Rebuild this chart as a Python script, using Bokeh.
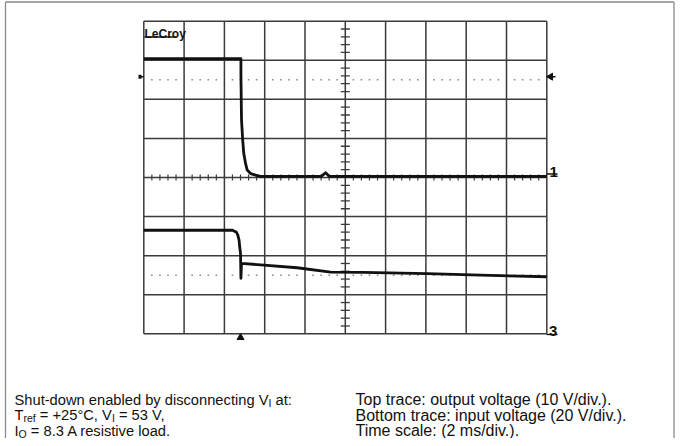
import math
from bokeh.plotting import figure
from bokeh.models import Range1d, Label
from bokeh.embed import file_html
from bokeh.resources import INLINE

# ---------------- data ----------------
# time axis: 2 ms/div, 10 divisions
time_grid_ms = [0, 2, 4, 6, 8, 10, 12, 14, 16, 18, 20]
# vertical grid in channel-1 volts (10 V/div, ground at centre line)
volt_grid_ch1 = [-40, -30, -20, -10, 0, 10, 20, 30, 40]

# top trace: output voltage, 10 V/div, ground marker "1" at centre
ch1_t = [0.0, 4.82, 4.82, 4.85, 4.88, 4.91, 4.96, 5.05, 5.13, 5.30, 5.55, 5.79,
         8.80, 9.02, 9.20, 20.0]
ch1_v = [30.4, 30.4, 26.2, 14.7, 12.1, 9.5, 6.2, 3.6, 1.9, 1.0, 0.6, 0.3,
         0.3, 1.2, 0.3, 0.3]

# bottom trace: input voltage, 20 V/div, ground marker "3" at bottom line
ch3_t = [0.0, 4.40, 4.60, 4.67, 4.73, 4.76, 4.80, 4.82, 4.85, 5.96, 7.61,
         9.27, 10.90, 14.06, 16.71, 20.0]
ch3_v = [53.0, 53.0, 52.0, 50.4, 47.8, 44.4, 41.2, 28.4, 36.0, 35.2, 33.8,
         31.6, 31.4, 30.8, 30.0, 29.2]

trigger_t = 4.80          # ms (trigger arrow under the screen)
trig_level_v = 25.8       # ch1 volts (side arrows)
ref_level_v = [25.0, -25.0]  # dotted reference lines (ch1 volts)

left_lines = [
    [("Shut-down enabled by disconnecting V", 0), ("I", 1), (" at:", 0)],
    [("T", 0), ("ref", 1), (" = +25°C, V", 0), ("I", 1), (" = 53 V,", 0)],
    [("I", 0), ("O", 1), (" = 8.3 A resistive load.", 0)],
]
right_lines = [
    "Top trace: output voltage (10 V/div.).",
    "Bottom trace: input voltage (20 V/div.).",
    "Time scale: (2 ms/div.).",
]

# ---------------- geometry (picture pixels) ----------------
W, H = 675, 438
PX0, PX1 = 143.3, 546.3     # screen left/right
PY0, PY1 = 20.7, 333.3      # screen top/bottom
MS_PX = 20.0 / (PX1 - PX0)
V_PX = 80.0 / (PY1 - PY0)
PYC = (PY0 + PY1) / 2


def X(px):
    return (px - PX0) * MS_PX


def Y(py):
    return (PYC - py) * V_PX


y_lo, y_hi = Y(H), Y(0)
p = figure(width=W, height=H, x_range=Range1d(X(0), X(W)),
           y_range=Range1d(y_lo, y_hi), x_axis_type=None, y_axis_type=None,
           toolbar_location=None, output_backend="svg", min_border=0,
           outline_line_color=None, background_fill_color="white",
           border_fill_color="white")
p.extra_y_ranges = {"ch3": Range1d(2 * y_lo + 80, 2 * y_hi + 80)}

INK = "#111111"
GRID = "#3a3a3a"

# page frame
p.segment(x0=[X(5), X(5), X(673.5)], y0=[Y(1.5), Y(1.5), Y(1.5)],
          x1=[X(5), X(673.5), X(673.5)], y1=[Y(H), Y(1.5), Y(H)],
          line_color="#8a8a8a", line_width=1.3)

# graticule
p.segment(x0=time_grid_ms, y0=[volt_grid_ch1[0]] * len(time_grid_ms),
          x1=time_grid_ms, y1=[volt_grid_ch1[-1]] * len(time_grid_ms),
          line_color=GRID, line_width=1.5)
p.segment(x0=[time_grid_ms[0]] * len(volt_grid_ch1), y0=volt_grid_ch1,
          x1=[time_grid_ms[-1]] * len(volt_grid_ch1), y1=volt_grid_ch1,
          line_color=GRID, line_width=1.5)

# minor ticks on centre cross
ty = [k * 2.0 for k in range(-20, 21) if k % 5 != 0]
p.segment(x0=[10 - 4.5 * MS_PX] * len(ty), y0=ty,
          x1=[10 + 4.5 * MS_PX] * len(ty), y1=ty, line_color=GRID, line_width=1.3)
tx = [k * 0.4 for k in range(0, 51) if k % 5 != 0]
p.segment(x0=tx, y0=[-3 * V_PX] * len(tx), x1=tx, y1=[3 * V_PX] * len(tx),
          line_color=GRID, line_width=1.2)

# dotted reference lines
for lv in ref_level_v:
    p.rect(x=tx, y=[lv] * len(tx), width=1.6, height=1.6, width_units="screen",
           height_units="screen", fill_color="#8c8c8c", line_color=None)

# traces
p.line(ch1_t, ch1_v, line_color=INK, line_width=2.8, line_join="round")
p.line(ch3_t, ch3_v, y_range_name="ch3", line_color=INK, line_width=2.8,
       line_join="round")

# markers
p.segment(x0=[X(139)], y0=[trig_level_v], x1=[X(143)], y1=[trig_level_v],
          line_color=INK, line_width=1.5)
p.rect(x=[X(139.5)], y=[trig_level_v], width=3, height=4, width_units="screen",
       height_units="screen", fill_color=INK, line_color=None)
p.scatter(x=[X(550)], y=[trig_level_v], marker="triangle", size=7,
          angle=math.pi / 2, fill_color=INK, line_color=INK)
p.segment(x0=[X(550)], y0=[trig_level_v], x1=[X(555)], y1=[trig_level_v],
          line_color=INK, line_width=1.5)
p.scatter(x=[trigger_t], y=[Y(337)], marker="triangle", size=7,
          fill_color=INK, line_color=INK)

# channel ground markers
p.add_layout(Label(x=X(549), y=Y(171), text="1", text_font="Liberation Sans",
                   text_font_size="15px", text_font_style="bold",
                   text_color=INK, text_baseline="alphabetic"))
p.segment(x0=[X(546)], y0=[Y(173.5)], x1=[X(557)], y1=[Y(173.5)],
          line_color=INK, line_width=1.3)
p.add_layout(Label(x=X(548.5), y=Y(330), text="3", text_font="Liberation Sans",
                   text_font_size="15px", text_font_style="bold",
                   text_color=INK, text_baseline="alphabetic"))
p.segment(x0=[X(546)], y0=[Y(334)], x1=[X(557)], y1=[Y(334)],
          line_color=INK, line_width=1.3)

# LeCroy logo
p.add_layout(Label(x=X(144), y=Y(33.5), text="LeCroy", text_font="Liberation Sans",
                   text_font_size="12px", text_font_style="bold",
                   text_color=INK, text_baseline="alphabetic"))
p.segment(x0=[X(144)], y0=[Y(36.5)], x1=[X(176)], y1=[Y(36.5)],
          line_color=INK, line_width=1.4)

# caption text
AW = {' ': 278, '+': 584, ',': 278, '-': 333, '.': 278, '2': 556, '3': 556,
      '5': 556, '8': 556, ':': 278, '=': 584, 'A': 667, 'C': 722, 'I': 278,
      'O': 778, 'S': 667, 'T': 611, 'V': 667, 'a': 556, 'b': 556, 'c': 500,
      'd': 556, 'e': 556, 'f': 278, 'g': 556, 'h': 556, 'i': 222, 'l': 222,
      'n': 556, 'o': 556, 'r': 333, 's': 500, 't': 278, 'u': 556, 'v': 500,
      'w': 722, 'y': 500, '°': 400}
FS_L, FS_R, SUB, SUB_DY = 14.7, 16.0, 10.5, 3.0


def tw(s, size):
    return sum(AW.get(c, 556) for c in s) * size / 1000.0


def put(xp, yp, txt, size):
    p.add_layout(Label(x=X(xp), y=Y(yp), text=txt, text_font="Liberation Sans",
                       text_font_size=f"{size}px", text_color=INK,
                       text_baseline="alphabetic", text_align="left"))


BASES = [399.0, 414.5, 430.0]
for base, parts in zip(BASES, left_lines):
    x = 14.0
    for txt, sub in parts:
        size = SUB if sub else FS_L
        yb = base + (SUB_DY if sub else 0)
        lead = len(txt) - len(txt.lstrip(' '))
        x += tw(' ' * lead, size)
        put(x, yb, txt.lstrip(' '), size)
        x += tw(txt.lstrip(' '), size)

for base, txt in zip(BASES, right_lines):
    put(355.0, base, txt, FS_R)

open("out.html", "w").write(file_html(p, INLINE))
